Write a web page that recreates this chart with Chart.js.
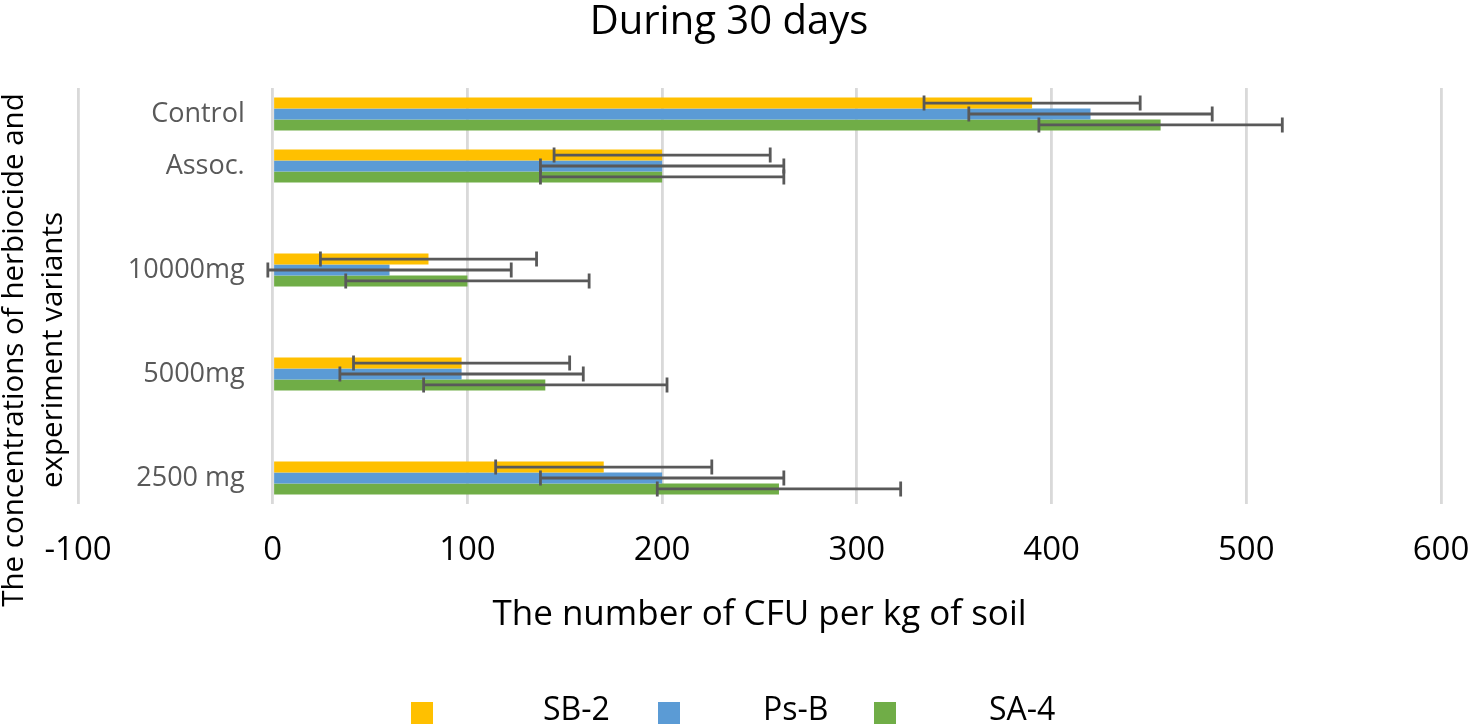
<!DOCTYPE html>
<html>
<head>
<meta charset="utf-8">
<script src="https://cdn.jsdelivr.net/npm/chart.js@4/dist/chart.umd.min.js"></script>
<style>
  html, body { margin: 0; padding: 0; background: #fff; }
  #wrap { width: 1471px; height: 725px; position: relative; }
</style>
</head>
<body>
<div id="wrap"><canvas id="cfuChart"></canvas></div>
<script>
// categories top to bottom (blank ones keep Excel's uneven spacing)
const categories = ['Control', 'Assoc.', '', '10000mg', '', '5000mg', '', '2500 mg'];
const seriesNames = ['SB-2', 'Ps-B', 'SA-4'];

const sb2 = [390, 200, null, 80, null, 97, null, 170];
const psb = [420, 200, null, 60, null, 97, null, 200];
const sa4 = [456, 200, null, 100, null, 140, null, 260];

// error bar half-widths
const sb2Err = [55.5, 55.5, null, 55.5, null, 55.5, null, 55.5];
const psbErr = [62.5, 62.5, null, 62.5, null, 62.5, null, 62.5];
const sa4Err = [62.5, 62.5, null, 62.5, null, 62.5, null, 62.5];

const xTicks = [-100, 0, 100, 200, 300, 400, 500, 600];

const colors = ['#FFC000', '#5B9BD5', '#70AD47'];
const FONT = "'Open Sans', sans-serif";

// draw the error bars from the x scale
const errorBars = {
  id: 'errorBars',
  afterDatasetsDraw(chart) {
    const ctx = chart.ctx;
    const xs = chart.scales.x;
    ctx.save();
    ctx.strokeStyle = '#595959';
    ctx.lineWidth = 2.8;
    chart.data.datasets.forEach((ds, i) => {
      const meta = chart.getDatasetMeta(i);
      meta.data.forEach((bar, j) => {
        const v = ds.data[j];
        const e = ds.errors[j];
        if (v == null || e == null) return;
        const y = bar.y;
        const x1 = xs.getPixelForValue(v - e);
        const x2 = xs.getPixelForValue(v + e);
        ctx.beginPath();
        ctx.moveTo(x1, y); ctx.lineTo(x2, y);
        ctx.moveTo(x1, y - 7.5); ctx.lineTo(x1, y + 7.5);
        ctx.moveTo(x2, y - 7.5); ctx.lineTo(x2, y + 7.5);
        ctx.stroke();
      });
    });
    ctx.restore();
  }
};

// title, category labels next to the 0 line, y title and the legend row
const extras = {
  id: 'extras',
  afterDraw(chart) {
    const ctx = chart.ctx;
    const xs = chart.scales.x;
    const ys = chart.scales.y;

    ctx.save();
    ctx.fillStyle = '#000';
    ctx.font = '40px ' + FONT;
    ctx.textAlign = 'center';
    ctx.textBaseline = 'middle';
    ctx.fillText('During 30 days', 729, 23);
    ctx.restore();

    // category labels, right aligned left of the 0 gridline
    ctx.save();
    ctx.fillStyle = '#595959';
    ctx.font = '27px ' + FONT;
    ctx.textAlign = 'right';
    ctx.textBaseline = 'middle';
    const x0 = xs.getPixelForValue(0) - 28;
    categories.forEach((c, i) => {
      if (c) ctx.fillText(c, x0, ys.getPixelForValue(i));
    });
    ctx.restore();

    ctx.save();
    ctx.fillStyle = '#000';
    ctx.font = '29.5px ' + FONT;
    ctx.textAlign = 'center';
    ctx.textBaseline = 'middle';
    ctx.translate(34, 350);
    ctx.rotate(-Math.PI / 2);
    ctx.fillText('The concentrations of herbiocide and', 0, -19);
    ctx.fillText('experiment variants', 0, 20);
    ctx.restore();

    // legend
    const boxX = [411, 658, 874];
    const textX = [543, 763, 989];
    ctx.save();
    ctx.font = '32px ' + FONT;
    ctx.textAlign = 'left';
    ctx.textBaseline = 'middle';
    chart.data.datasets.forEach((ds, i) => {
      ctx.fillStyle = ds.backgroundColor;
      ctx.fillRect(boxX[i], 702, 22, 22);
      ctx.fillStyle = '#000';
      ctx.fillText(ds.label, textX[i], 711);
    });
    ctx.restore();
  }
};

const datasets = [sb2, psb, sa4].map((d, i) => ({
  label: seriesNames[i],
  data: d,
  errors: [sb2Err, psbErr, sa4Err][i],
  backgroundColor: colors[i],
  borderWidth: 0,
  categoryPercentage: 0.63,
  barPercentage: 1.0
}));

new Chart(document.getElementById('cfuChart'), {
  type: 'bar',
  data: { labels: categories, datasets: datasets },
  options: {
    indexAxis: 'y',
    responsive: true,
    maintainAspectRatio: false,
    animation: false,
    layout: { padding: { left: 78, right: 0, top: 88, bottom: 89 } },
    plugins: {
      legend: { display: false },
      tooltip: { enabled: false },
      title: { display: false }
    },
    scales: {
      x: {
        type: 'linear',
        min: -100,
        max: 600,
        afterBuildTicks: (scale) => { scale.ticks = xTicks.map(v => ({ value: v })); },
        afterFit: (scale) => {
          // fixed axis band and edge room, like the Excel plot area
          scale.height = 132;
          scale.paddingLeft = 30;
          scale.paddingRight = 30;
        },
        grid: { color: '#D9D9D9', lineWidth: 2.8, drawTicks: false },
        border: { display: false },
        ticks: {
          color: '#000',
          padding: 27,
          font: { family: FONT, size: 33 }
        },
        title: {
          display: true,
          text: 'The number of CFU per kg of soil',
          color: '#000',
          font: { family: FONT, size: 35 },
          padding: { top: 0, bottom: 0 }
        }
      },
      y: {
        position: { x: 0 },
        grid: { display: false },
        border: { display: false },
        ticks: { display: false }
      }
    }
  },
  plugins: [errorBars, extras]
});
</script>
</body>
</html>
